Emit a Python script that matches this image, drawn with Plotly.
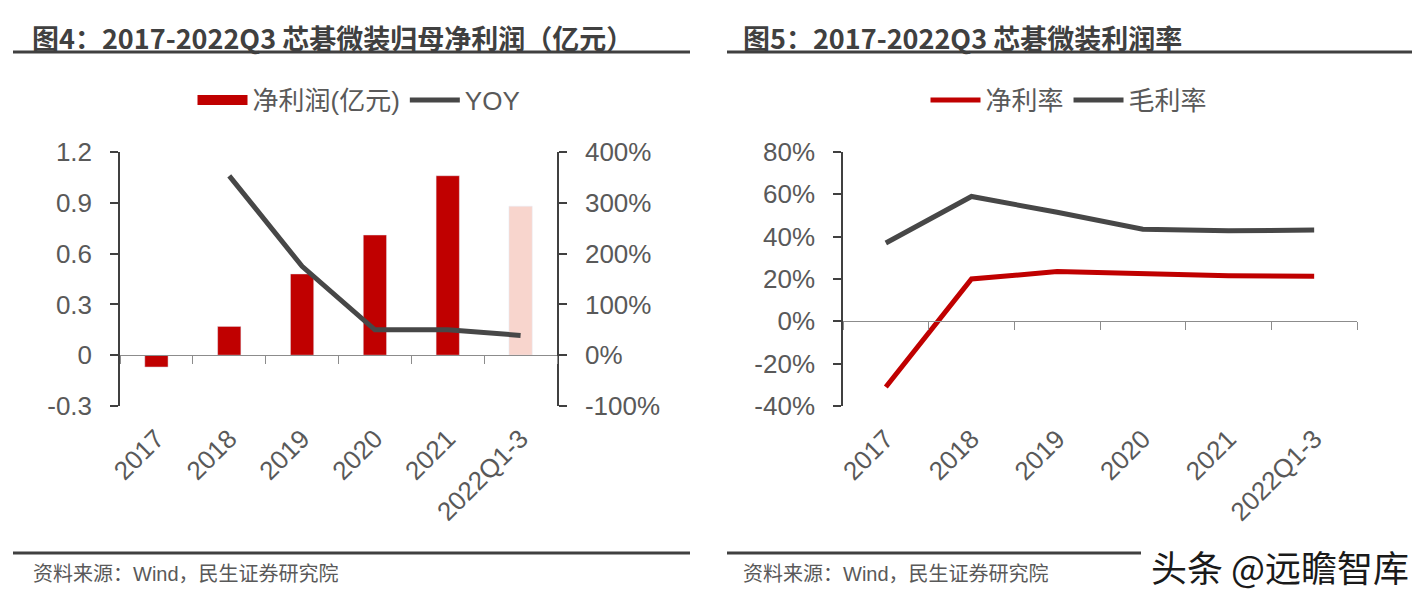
import plotly.graph_objects as go

# ---- data ----
categories = ["2017", "2018", "2019", "2020", "2021", "2022Q1-3"]
net_profit = [-0.07, 0.17, 0.48, 0.71, 1.06, 0.88]          # 亿元
yoy = [None, 3.53, 1.75, 0.50, 0.50, 0.39]                   # growth
net_margin = [-0.31, 0.20, 0.235, 0.227, 0.215, 0.213]
gross_margin = [0.37, 0.59, 0.515, 0.435, 0.428, 0.431]

left_ticks = [-0.3, 0, 0.3, 0.6, 0.9, 1.2]
left_ticktext = ["-0.3", "0", "0.3", "0.6", "0.9", "1.2"]
yoy_ticks = [-1.0, 0.0, 1.0, 2.0, 3.0, 4.0]
yoy_ticktext = ["-100%", "0%", "100%", "200%", "300%", "400%"]
margin_ticks = [-0.4, -0.2, 0.0, 0.2, 0.4, 0.6, 0.8]
margin_ticktext = ["-40%", "-20%", "0%", "20%", "40%", "60%", "80%"]

RED = "#C00000"
PINK = "#F8D5CD"
GRAY = "#474747"
TXT = "#595959"
AXIS = "#404040"
FONT = "Liberation Sans, Noto Sans CJK SC, sans-serif"

# page body has an 8px margin; the figure fills the rest of the 1426x604 window
OFF = 8
W, H = 1426 - 2 * OFF, 604 - 2 * OFF


def px_x(v):
    return (v - OFF) / W


def px_y(v):
    return 1 - (v - OFF) / H


ydom = [px_y(406), px_y(152)]
xdom1 = [px_x(120), px_x(557)]
xdom2 = [px_x(843), px_x(1357)]

fig = go.Figure()

bar_colors = [RED] * (len(categories) - 1) + [PINK]
fig.add_trace(go.Bar(x=categories, y=net_profit, marker_color=bar_colors,
                     width=0.32, showlegend=False, xaxis="x", yaxis="y"))
# legend proxy for the bar series
fig.add_trace(go.Scatter(x=[None], y=[None], mode="lines", name="净利润(亿元)",
                         line=dict(color=RED, width=15), xaxis="x", yaxis="y",
                         legend="legend"))
fig.add_trace(go.Scatter(x=categories, y=yoy, mode="lines", name="YOY",
                         line=dict(color=GRAY, width=5), xaxis="x", yaxis="y2",
                         legend="legend"))

fig.add_trace(go.Scatter(x=categories, y=net_margin, mode="lines", name="净利率",
                         line=dict(color=RED, width=5), xaxis="x2", yaxis="y3",
                         legend="legend2"))
fig.add_trace(go.Scatter(x=categories, y=gross_margin, mode="lines", name="毛利率",
                         line=dict(color=GRAY, width=5), xaxis="x2", yaxis="y3",
                         legend="legend2"))

tickfont = dict(family=FONT, size=26, color=TXT)
ycommon = dict(showgrid=False, zeroline=False, linecolor=AXIS, linewidth=1.5,
               tickcolor=AXIS, ticklen=8, tickwidth=1.5, tickfont=tickfont,
               automargin=False, showline=True, ticks="outside",
               ticklabelstandoff=13)
xcommon = dict(showgrid=False, zeroline=False, linecolor="#8C8C8C", linewidth=1,
               tickcolor="#8C8C8C", ticklen=8, tickwidth=1, tickfont=tickfont,
               automargin=False, showline=True, ticks="outside",
               tickson="boundaries", tickangle=-45, type="category",
               range=[-0.5, len(categories) - 0.5], anchor="free")

fig.update_layout(
    width=W, height=H, margin=dict(l=0, r=0, t=0, b=0, autoexpand=False),
    plot_bgcolor="white", paper_bgcolor="white",
    font=dict(family=FONT, color=TXT),
    xaxis=dict(domain=xdom1, position=ydom[0] + 0.2 * (ydom[1] - ydom[0]),
               ticklabelstandoff=57, **xcommon),
    yaxis=dict(domain=ydom, range=[-0.3, 1.2], tickvals=left_ticks,
               ticktext=left_ticktext, anchor="x", **ycommon),
    yaxis2=dict(domain=ydom, range=[-1.0, 4.0], tickvals=yoy_ticks,
                ticktext=yoy_ticktext, overlaying="y", side="right",
                anchor="x", **ycommon),
    xaxis2=dict(domain=xdom2, position=ydom[0] + (1 / 3) * (ydom[1] - ydom[0]),
                ticklabelstandoff=91, **xcommon),
    yaxis3=dict(domain=ydom, range=[-0.4, 0.8], tickvals=margin_ticks,
                ticktext=margin_ticktext, anchor="x2", **ycommon),
    legend=dict(orientation="h", x=px_x(359), xanchor="center", y=px_y(100),
                yanchor="middle", font=dict(family=FONT, size=26, color=TXT),
                bgcolor="rgba(0,0,0,0)", itemwidth=50),
    legend2=dict(orientation="h", x=px_x(1069), xanchor="center", y=px_y(100),
                 yanchor="middle", font=dict(family=FONT, size=26, color=TXT),
                 bgcolor="rgba(0,0,0,0)", itemwidth=50),
)

TITLE_FONT = dict(family="Noto Sans CJK SC, sans-serif", size=27, color="#404040")
annotations = [
    dict(text="<b>图4：2017-2022Q3 芯碁微装归母净利润（亿元）</b>", x=px_x(30), y=px_y(38),
         xanchor="left", yanchor="middle", font=TITLE_FONT),
    dict(text="<b>图5：2017-2022Q3 芯碁微装利润率</b>", x=px_x(741), y=px_y(38),
         xanchor="left", yanchor="middle", font=TITLE_FONT),
    dict(text="资料来源：Wind，民生证券研究院", x=px_x(31), y=px_y(574),
         xanchor="left", yanchor="middle",
         font=dict(family=FONT, size=20, color=TXT)),
    dict(text="资料来源：Wind，民生证券研究院", x=px_x(741), y=px_y(574),
         xanchor="left", yanchor="middle",
         font=dict(family=FONT, size=20, color=TXT)),
    dict(text="头条 @远瞻智库", x=px_x(1411), y=px_y(566),
         xanchor="right", yanchor="middle",
         font=dict(family="Noto Sans CJK SC, sans-serif", size=36, color="#1A1A1A")),
]
for a in annotations:
    a.update(xref="paper", yref="paper", showarrow=False)
fig.update_layout(annotations=annotations)

line_style = dict(color="#404040", width=3)
shapes = [
    dict(type="line", x0=px_x(13), x1=px_x(690), y0=px_y(52), y1=px_y(52), line=line_style),
    dict(type="line", x0=px_x(727), x1=px_x(1412), y0=px_y(52), y1=px_y(52), line=line_style),
    dict(type="line", x0=px_x(13), x1=px_x(690), y0=px_y(553), y1=px_y(553), line=line_style),
    dict(type="line", x0=px_x(727), x1=px_x(1141), y0=px_y(553), y1=px_y(553), line=line_style),
]
for s in shapes:
    s.update(xref="paper", yref="paper")
fig.update_layout(shapes=shapes)

fig.write_html("out.html")
